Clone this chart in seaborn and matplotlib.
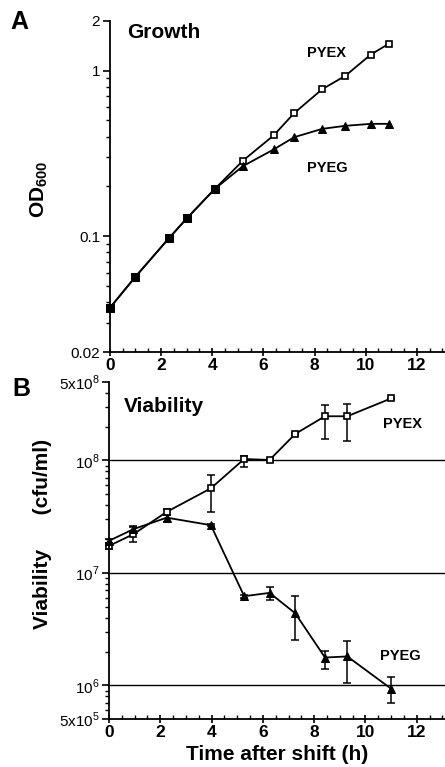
import numpy as np
import seaborn as sns
import matplotlib.pyplot as plt
from matplotlib.ticker import FixedLocator, NullFormatter

# panel A - growth (OD600)
growth_time = [0, 1, 2.3, 3, 4.1, 5.2, 6.4, 7.2, 8.3, 9.2, 10.2, 10.9]
od_pyex = [0.037, 0.057, 0.097, 0.128, 0.193, 0.286, 0.406, 0.553, 0.772, 0.929, 1.25, 1.45]
od_pyeg = [0.037, 0.057, 0.097, 0.128, 0.193, 0.265, 0.334, 0.396, 0.445, 0.464, 0.477, 0.477]
n_shared = 5  # first points overlap -> drawn as filled squares

# panel B - viability (cfu/ml)
via_time = [0, 0.95, 2.25, 3.97, 5.27, 6.26, 7.26, 8.42, 9.29, 11.0]
via_pyex = [1.74e7, 2.21e7, 3.49e7, 5.65e7, 1.03e8, 1.01e8, 1.72e8, 2.47e8, 2.47e8, 3.56e8]
via_pyex_lo = [1.62e7, 1.87e7, 3.3e7, 3.49e7, 0.88e8, 0.98e8, 1.68e8, 1.56e8, 1.5e8, 3.5e8]
via_pyex_hi = [1.86e7, 2.58e7, 3.7e7, 7.4e7, 1.1e8, 1.04e8, 1.76e8, 3.12e8, 3.15e8, 3.62e8]
via_pyeg = [1.93e7, 2.45e7, 3.1e7, 2.66e7, 6.21e6, 6.65e6, 4.38e6, 1.77e6, 1.81e6, 0.935e6]
via_pyeg_lo = [1.85e7, 2.3e7, 2.85e7, 2.6e7, 6.0e6, 5.69e6, 2.55e6, 1.41e6, 1.05e6, 0.7e6]
via_pyeg_hi = [2.0e7, 2.6e7, 3.3e7, 2.72e7, 6.4e6, 7.57e6, 6.3e6, 2.04e6, 2.5e6, 1.2e6]

a_ticks = [0.02, 0.1, 1, 2]
a_ticklabels = ["0.02", "0.1", "1", "2"]
b_ticks = [5e5, 1e6, 1e7, 1e8, 5e8]
b_ticklabels = ["5x10$^5$", "10$^6$", "10$^7$", "10$^8$", "5x10$^8$"]
hlines_b = [1e6, 1e7, 1e8]

sns.set_style("ticks")
plt.rcParams['font.family'] = ['Liberation Sans', 'DejaVu Sans']
plt.rcParams['mathtext.fontset'] = 'custom'
plt.rcParams['mathtext.rm'] = 'Liberation Sans'
plt.rcParams['mathtext.bf'] = 'Liberation Sans:bold'
for k in ['text.color', 'axes.labelcolor', 'xtick.color', 'ytick.color', 'axes.edgecolor']:
    plt.rcParams[k] = 'black'

fig = plt.figure(figsize=(4.45, 7.67), dpi=100)
axA = fig.add_axes([0.247, 0.541, 0.753, 0.432])
axB = fig.add_axes([0.245, 0.0622, 0.755, 0.440])

lw = 1.3
ms = 5

# ---- panel A
sns.lineplot(x=growth_time, y=od_pyex, ax=axA, color='black', lw=lw, sort=False,
             marker='s', markersize=ms, markerfacecolor='white', markeredgecolor='black',
             markeredgewidth=1.2, clip_on=False)
sns.lineplot(x=growth_time[n_shared - 1:], y=od_pyeg[n_shared - 1:], ax=axA, color='black',
             lw=lw, sort=False, marker='^', markersize=ms + 0.5, markerfacecolor='black',
             markeredgecolor='black')
sns.lineplot(x=growth_time[:n_shared], y=od_pyex[:n_shared], ax=axA, color='black', lw=lw,
             sort=False, marker='s', markersize=ms + 0.8, markerfacecolor='black',
             markeredgecolor='black', clip_on=False)

axA.set_yscale('log')
axA.set_ylim(0.02, 2)
axA.set_xlim(0, 13.1)
axA.text(7.7, 1.27, "PYEX", fontsize=10.5, fontweight='bold', va='center', ha='left')
axA.text(7.7, 0.26, "PYEG", fontsize=10.5, fontweight='bold', va='center', ha='left')
axA.text(0.05, 0.964, "Growth", transform=axA.transAxes, fontsize=15,
         fontweight='bold', va='center', ha='left')
axA.set_ylabel(r"$\mathbf{OD}_{\mathbf{600}}$", fontsize=15)
axA.yaxis.set_label_coords(-0.179, 0.49)
axA.yaxis.set_major_locator(FixedLocator(a_ticks))
axA.set_yticklabels(a_ticklabels)
axA.yaxis.set_minor_locator(FixedLocator(
    [v * 0.01 for v in range(3, 10)] + [v * 0.1 for v in range(2, 10)]))
axA.yaxis.set_minor_formatter(NullFormatter())

# ---- panel B
for h in hlines_b:
    axB.axhline(h, color='black', lw=1.0, zorder=1)

pyex_err = [np.array(via_pyex) - np.array(via_pyex_lo), np.array(via_pyex_hi) - np.array(via_pyex)]
pyeg_err = [np.array(via_pyeg) - np.array(via_pyeg_lo), np.array(via_pyeg_hi) - np.array(via_pyeg)]
axB.errorbar(via_time, via_pyex, yerr=pyex_err, fmt='none', ecolor='black',
             elinewidth=1.1, capsize=2.8, capthick=1.1, clip_on=False)
axB.errorbar(via_time, via_pyeg, yerr=pyeg_err, fmt='none', ecolor='black',
             elinewidth=1.1, capsize=2.8, capthick=1.1, clip_on=False)
sns.lineplot(x=via_time, y=via_pyex, ax=axB, color='black', lw=lw, sort=False,
             marker='s', markersize=ms, markerfacecolor='white', markeredgecolor='black',
             markeredgewidth=1.2, clip_on=False)
sns.lineplot(x=via_time, y=via_pyeg, ax=axB, color='black', lw=lw, sort=False,
             marker='^', markersize=ms + 0.5, markerfacecolor='black',
             markeredgecolor='black', clip_on=False)

axB.set_yscale('log')
axB.set_ylim(5e5, 5e8)
axB.set_xlim(0, 13.1)
axB.text(10.68, 2.1e8, "PYEX", fontsize=10.5, fontweight='bold', va='center', ha='left')
axB.text(10.56, 1.84e6, "PYEG", fontsize=10.5, fontweight='bold', va='center', ha='left')
axB.text(0.045, 0.928, "Viability", transform=axB.transAxes, fontsize=15,
         fontweight='bold', va='center', ha='left')
axB.set_ylabel("Viability      (cfu/ml)", fontsize=15, fontweight='bold')
axB.yaxis.set_label_coords(-0.170, 0.55)
axB.set_xlabel("Time after shift (h)", fontsize=15, fontweight='bold', labelpad=4)
axB.yaxis.set_major_locator(FixedLocator(b_ticks))
axB.set_yticklabels(b_ticklabels)
minB = [v * 1e5 for v in range(6, 10)] + [v * 1e6 for v in range(2, 10)] + \
       [v * 1e7 for v in range(2, 10)] + [v * 1e8 for v in range(2, 5)]
axB.yaxis.set_minor_locator(FixedLocator(minB))
axB.yaxis.set_minor_formatter(NullFormatter())

for ax in (axA, axB):
    sns.despine(ax=ax)
    ax.set_xticks(range(0, 13, 2))
    ax.xaxis.set_minor_locator(FixedLocator(np.arange(0, 13.1, 0.5)))
    ax.tick_params(axis='x', which='major', direction='inout', length=6, width=1.2,
                   labelsize=12.5, pad=1)
    ax.tick_params(axis='x', which='minor', direction='in', length=3, width=1.0)
    ax.tick_params(axis='y', which='major', direction='out', length=5, width=1.2,
                   labelsize=11, pad=2)
    ax.tick_params(axis='y', which='minor', direction='out', length=3, width=1.0)
    for lab in ax.get_xticklabels():
        lab.set_fontweight('bold')
    for sp in ax.spines.values():
        sp.set_linewidth(1.3)
        sp.set_color('black')

fig.text(10 / 445, 1 - 22 / 767, "A", fontsize=18, fontweight='bold', va='center', ha='left')
fig.text(12 / 445, 1 - 389 / 767, "B", fontsize=18, fontweight='bold', va='center', ha='left')

fig.savefig("out.png", dpi=100)
